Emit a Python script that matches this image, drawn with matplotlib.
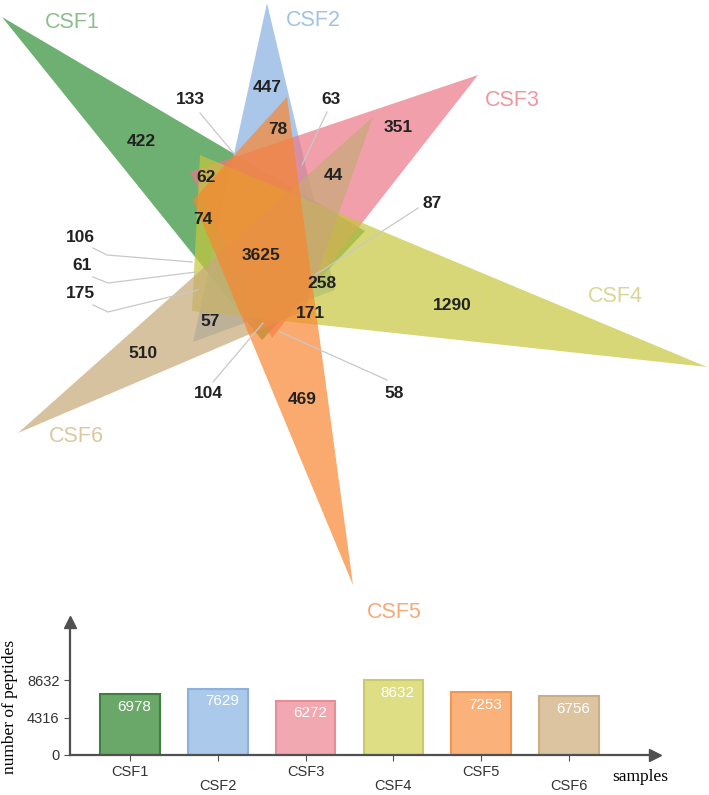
import matplotlib.pyplot as plt
from matplotlib.patches import Polygon

# sample names and total peptides per sample
sets = ["CSF1", "CSF2", "CSF3", "CSF4", "CSF5", "CSF6"]
totals = [6978, 7629, 6272, 8632, 7253, 6756]

# venn region counts (as printed on the diagram)
region_counts = [422, 447, 351, 1290, 469, 510,
                 133, 63, 78, 62, 44, 87, 74, 3625,
                 106, 61, 175, 258, 171, 57, 104, 58]

# ---- layout (pixel coords of the 709x795 picture) ----
triangles = [
    [(2, 17), (365, 231), (262, 340)],     # CSF1
    [(267, 3), (193, 342), (335, 290)],    # CSF2
    [(478, 75), (190, 172), (272, 338)],   # CSF3
    [(707, 367), (200, 155), (192, 311)],  # CSF4
    [(18, 433), (373, 117), (304, 311)],   # CSF6 (drawn before CSF5)
    [(353, 585), (287, 97), (193, 200)],   # CSF5
]
tri_order = [0, 1, 2, 3, 5, 4]
fill_cols = ["#308d37", "#86b0e2", "#ec7786", "#c6c63e", "#f88630", "#c6a977"]
name_cols = ["#8cbe8c", "#a0c3e1", "#f096a0", "#d7d796", "#f5aa78", "#dcc8a0"]
name_pos = [(72, 22), (313, 20), (512, 100), (615, 297), (394, 613), (76, 437)]

region_pos = [(141, 142), (267, 88), (398, 128), (452, 305), (302, 400), (143, 354),
              (190, 100), (331, 100), (278, 130), (206, 178), (333, 175), (432, 203),
              (203, 220), (261, 255), (80, 237), (82, 265), (80, 293), (322, 283),
              (310, 313), (210, 322), (208, 393), (394, 394)]

leaders = [
    [(200, 113), (235, 155)],
    [(327, 112), (302, 165)],
    [(418, 208), (315, 275)],
    [(93, 248), (107, 255), (192, 262)],
    [(93, 277), (108, 283), (196, 272)],
    [(93, 305), (108, 312), (198, 290)],
    [(213, 382), (263, 323)],
    [(387, 380), (280, 332)],
]

plt.rcParams['font.family'] = ['Liberation Sans', 'DejaVu Sans']

fig = plt.figure(figsize=(7.09, 7.95), dpi=100)
ax = fig.add_axes([0, 0, 1, 1])
ax.set_xlim(0, 709)
ax.set_ylim(795, 0)
ax.axis('off')

for k, i in enumerate(tri_order):
    ax.add_patch(Polygon(triangles[k], closed=True, facecolor=fill_cols[i],
                         edgecolor='none', alpha=0.7, zorder=2 + k))

for pts in leaders:
    xs, ys = zip(*pts)
    ax.plot(xs, ys, color='#c8c8c8', lw=0.9, zorder=10)

for name, (x, y), c in zip(sets, name_pos, name_cols):
    ax.text(x, y, name, color=c, fontsize=15.5, ha='center', va='center', zorder=11)

for n, (x, y) in zip(region_counts, region_pos):
    ax.text(x, y, str(n), fontsize=12.5, fontweight='bold', color='#222222',
            ha='center', va='center', zorder=12)

# ---- bar chart ----
bar_cols = ["#6aa86a", "#abc9ea", "#f2a8b0", "#dede84", "#fbb27a", "#dcc4a0"]
edge_cols = ["#3f7f3f", "#8db0dc", "#e88c98", "#caca66", "#f29552", "#c9ae86"]

bx = fig.add_axes([70 / 709, 40 / 795, 585 / 709, 133 / 795])
xpos = list(range(len(sets)))
bx.bar(xpos, totals, width=0.68, color=bar_cols, edgecolor=edge_cols, linewidth=1.5)
bx.set_xlim(-0.683, 5.98)
bx.set_ylim(0, max(totals) * 133 / 75)
for x, v in zip(xpos, totals):
    bx.text(x + 0.05, v - 1450, str(v), color='white', fontsize=11,
            ha='center', va='center')

for s in ['top', 'right']:
    bx.spines[s].set_visible(False)
for s in ['left', 'bottom']:
    bx.spines[s].set_color('#505050')
    bx.spines[s].set_linewidth(1.6)
bx.plot(1, 0, marker='>', ms=8, color='#505050', transform=bx.transAxes, clip_on=False)
bx.plot(0, 1, marker='^', ms=8, color='#505050', transform=bx.transAxes, clip_on=False)

bx.set_yticks([0, totals[3] / 2, totals[3]])
bx.set_yticklabels(["0", str(totals[3] // 2), str(totals[3])])
bx.set_xticks(xpos)
bx.set_xticklabels(sets)
bx.tick_params(axis='both', colors='#505050', labelcolor='#333333', labelsize=10.5, length=4)
for i, lbl in enumerate(bx.get_xticklabels()):
    if i % 2:
        lbl.set_y(-0.105)

bx.set_ylabel("number of peptides", family='Liberation Serif', fontsize=12.5)
bx.yaxis.set_label_coords(-0.089, 0.36)
fig.text(640 / 709, 1 - 777 / 795, "samples", family='Liberation Serif',
         fontsize=12.5, ha='center', va='center')

fig.savefig("out.png", dpi=100)
